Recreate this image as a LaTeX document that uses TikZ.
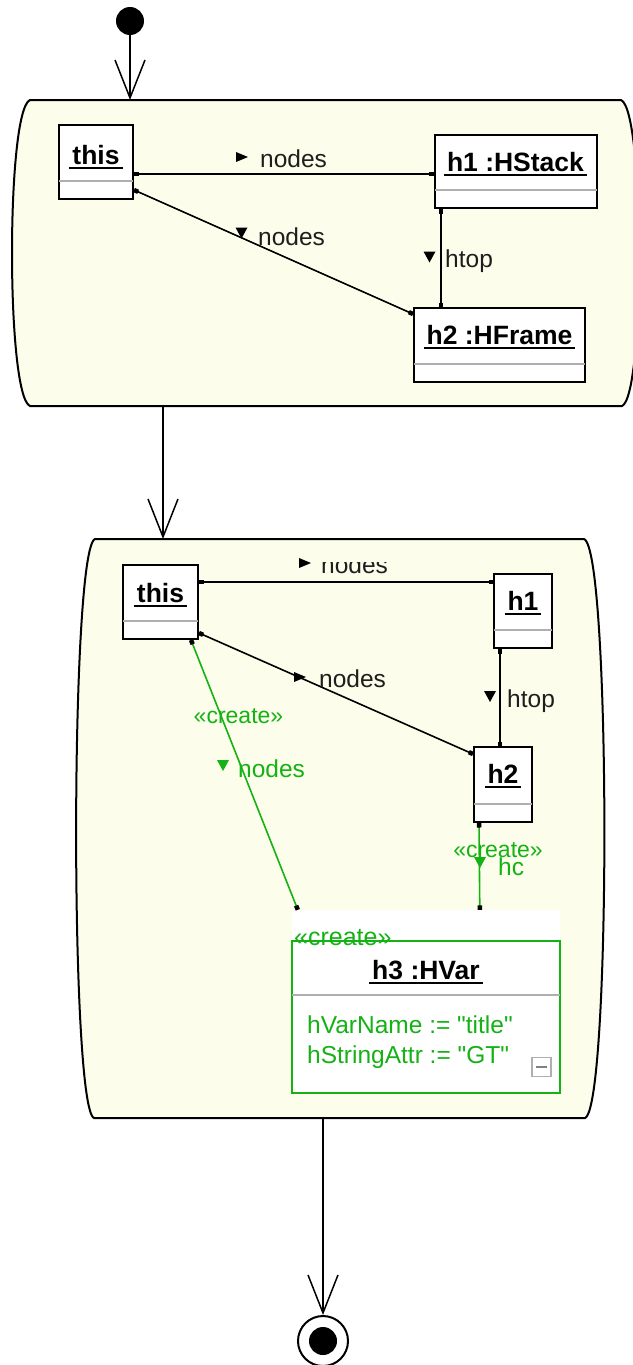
\documentclass[tikz,border=0pt]{standalone}
\usepackage{fontspec}
\setmainfont{Liberation Sans}[Ligatures=TeXOff]
\usetikzlibrary{arrows.meta}
\definecolor{actfill}{RGB}{253,253,236}
\definecolor{cgreen}{RGB}{20,178,20}
\definecolor{sepgray}{RGB}{175,175,175}
\definecolor{lblcol}{RGB}{30,30,30}
\newsavebox\ulbox
\newcommand{\ulname}[1]{\sbox\ulbox{#1}\rlap{\kern-3pt\rule[-4.5pt]{\dimexpr\wd\ulbox+6pt\relax}{2pt}}\usebox\ulbox}
\tikzset{
  sqdot/.tip={Square[length=4.5pt,width=4.5pt,color=black]},
  objbox/.style={draw=black, line width=2pt, fill=white, inner sep=0pt},
  nametext/.style={font=\fontsize{26.5}{30}\selectfont\bfseries, inner sep=0pt, anchor=base},
  lbl/.style={font=\fontsize{24.5}{28}\selectfont, text=lblcol, inner sep=0pt, anchor=base west},
  glbl/.style={font=\fontsize{23}{26}\selectfont, text=cgreen, inner sep=0pt, anchor=base},
  attr/.style={font=\fontsize{24.5}{28}\selectfont, text=cgreen, inner sep=0pt, anchor=base west},
  link/.style={line width=1.6pt, draw=black, sqdot-sqdot},
  glink/.style={line width=1.6pt, draw=cgreen, sqdot-sqdot},
  sepline/.style={draw=sepgray, line width=2pt},
  act/.style={draw=black, line width=2pt, fill=actfill},
  flow/.style={line width=1.5pt, -{Straight Barb[length=38pt,width=30pt]}},
  trir/.pic={\fill (-6,-5) -- (6,0) -- (-6,5) -- cycle;},
  trid/.pic={\fill (-6,-5) -- (6,-5) -- (0,6) -- cycle;}
}
\begin{document}
\begin{tikzpicture}[x=1pt,y=-1pt]
\useasboundingbox (0,0) rectangle (632,1365);

% activities
\path[act] (30,100) -- (621,100) .. controls (645,110) and (645,396) .. (622,406)
  -- (30,406) .. controls (6,396) and (6,110) .. cycle;
\path[act] (95,539) -- (584,539) .. controls (611,549) and (611,1108) .. (585,1118)
  -- (94,1118) .. controls (70,1108) and (70,549) .. cycle;

\coordinate (a1top) at (130,100);
\coordinate (a1bot) at (163,406);
\coordinate (a2top) at (163,539);
\coordinate (a2bot) at (323,1118);

% initial and final
\node[circle, fill=black, minimum size=28pt, inner sep=0pt] (init) at (130,21) {};
\node[circle, draw=black, line width=2pt, fill=white, minimum size=50pt, inner sep=0pt] (fin) at (323,1341) {};
\node[circle, fill=black, minimum size=28pt, inner sep=0pt] (finin) at (323,1341) {};

\draw[flow] (init) -- (a1top);
\draw[flow] (a1bot) -- (a2top);
\draw[flow] (a2bot) -- (fin);

% ---- activity 1 objects
\node[objbox, minimum width=74pt, minimum height=74pt] (t1) at (96,162) {};
\node[objbox, minimum width=162pt, minimum height=73pt] (h1a) at (515.5,171.5) {};
\node[objbox, minimum width=171pt, minimum height=74pt] (h2a) at (499.5,345) {};
\foreach \b in {t1,h1a,h2a}{
  \draw[sepline] ([yshift=19pt,xshift=1pt]\b.south west) -- ([yshift=19pt,xshift=-1pt]\b.south east);
}
\node[nametext] (t1n) at ([yshift=-40pt]t1.north) {\ulname{this}};
\node[nametext] (h1an) at ([yshift=-37pt]h1a.north) {\ulname{h1 :HStack}};
\node[nametext] (h2an) at ([yshift=-37pt]h2a.north) {\ulname{h2 :HFrame}};

\draw[link] ([yshift=-12pt]t1.east) -- ([yshift=-2.5pt]h1a.west);
\draw[link] ([yshift=10pt]t1.south east) -- ([yshift=-7pt]h2a.north west);
\draw[link] ([xshift=7.5pt]h1a.south west) -- ([xshift=28pt]h2a.north west);

\pic at (242,157) {trir};
\node[lbl] (l1) at (260,167) {nodes};
\pic at (241.5,232.5) {trid};
\node[lbl] (l2) at (258,245) {nodes};
\pic at (429.5,256.5) {trid};
\node[lbl] (l3) at (445,267) {htop};

% ---- activity 2 objects
\node[objbox, minimum width=75pt, minimum height=74pt] (t2) at (160.5,602) {};
\node[objbox, minimum width=58pt, minimum height=74pt] (h1b) at (523,611) {};
\node[objbox, minimum width=58pt, minimum height=75pt] (h2b) at (503,784.5) {};
\foreach \b in {t2,h1b,h2b}{
  \draw[sepline] ([yshift=19pt,xshift=1pt]\b.south west) -- ([yshift=19pt,xshift=-1pt]\b.south east);
}
\node[nametext] (t2n) at ([yshift=-38pt]t2.north) {\ulname{this}};
\node[nametext] (h1bn) at ([yshift=-37pt]h1b.north) {\ulname{h1}};
\node[nametext] (h2bn) at ([yshift=-37pt]h2b.north) {\ulname{h2}};

% h3 created object
\node[fill=white, minimum width=268pt, minimum height=183pt, inner sep=0pt] (h3bg) at (426,1001.5) {};
\node[draw=cgreen, line width=2pt, minimum width=268pt, minimum height=152pt, inner sep=0pt] (h3) at (426,1017) {};
\draw[sepline] ([yshift=-55pt,xshift=1pt]h3.north west) -- ([yshift=-55pt,xshift=-1pt]h3.north east);
\node[font=\fontsize{25}{28}\selectfont, text=cgreen, inner sep=0pt, anchor=base west] (h3st) at (294,945) {«create»};
\node[nametext] (h3n) at (426,979) {\ulname{h3 :HVar}};
\node[attr] (a1) at (307,1033) {hVarName := "title"};
\node[attr] (a2) at (307,1063) {hStringAttr := "GT"};
\node[draw=sepgray, line width=1.5pt, minimum size=19pt, inner sep=0pt] (coll) at (541.5,1067) {};
\draw[draw=gray, line width=1.5pt] ([xshift=5pt]coll.west) -- ([xshift=-5pt]coll.east);

% links activity 2
\draw[link] ([yshift=-18pt]t2.north east) -- ([yshift=-9pt]h1b.north west);
\draw[link] ([yshift=7pt]t2.south east) -- ([yshift=-8pt]h2b.north west);
\draw[link] ([xshift=7pt]h1b.south west) -- ([xshift=27pt]h2b.north west);
\draw[glink] ([xshift=-8pt]t2.south east) -- ([xshift=6pt]h3bg.north west);
\draw[glink] ([xshift=6pt]h2b.south west) -- ([xshift=188pt]h3bg.north west);

% labels activity 2
\pic at (305,563) {trir};
\begin{scope}
  \clip (315,562) rectangle (400,590);
  \node[lbl] (l4) at (321,573) {nodes};
\end{scope}
\pic at (300,677) {trir};
\node[lbl] (l5) at (319,687) {nodes};
\pic at (490,696) {trid};
\node[lbl] (l6) at (507,707) {htop};

\node[glbl] (c1) at (238.5,723) {«create»};
\pic[color=cgreen] at (223,765) {trid};
\node[lbl, text=cgreen] (l7) at (238,777) {nodes};

\node[glbl] (c2) at (498,857) {«create»};
\pic[color=cgreen] at (480,862) {trid};
\node[lbl, text=cgreen] (l8) at (498,875) {hc};
\end{tikzpicture}
\end{document}
